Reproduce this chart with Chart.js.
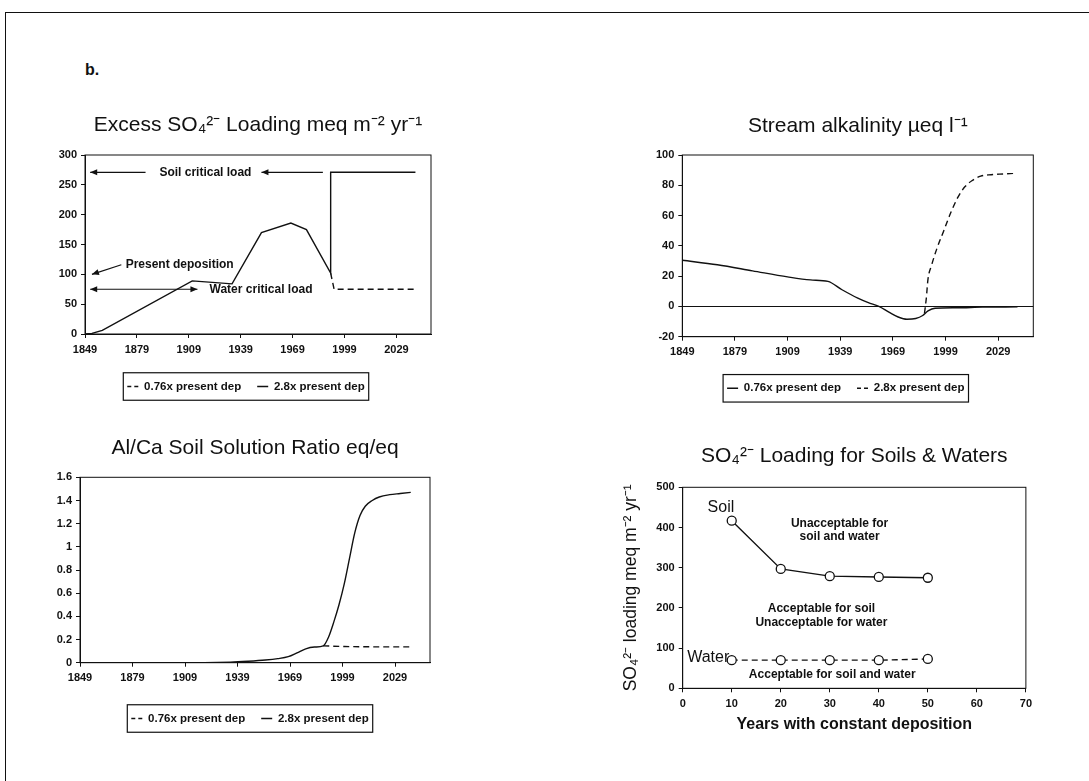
<!DOCTYPE html>
<html>
<head>
<meta charset="utf-8">
<script src="https://cdn.jsdelivr.net/npm/chart.js@4.4.1/dist/chart.umd.min.js"></script>
<style>
  html, body { margin: 0; padding: 0; background: #fff; width: 1089px; height: 781px; overflow: hidden; }
  #sheet { position: absolute; left: 5px; top: 12px; width: 1100px; height: 800px;
           border-top: 1.5px solid #111; border-left: 1.5px solid #111; }
  #panel { position: absolute; left: 85px; top: 61px; line-height: 16px;
           font: bold 16px "Liberation Sans", Arial, sans-serif; color: #111; }
  canvas { position: absolute; }
</style>
</head>
<body>
<div id="sheet"></div>
<div id="panel">b.</div>
<canvas id="cLoad" width="400" height="308" style="left:40px;top:95px"></canvas>
<canvas id="cAlk" width="400" height="310" style="left:640px;top:95px"></canvas>
<canvas id="cAlCa" width="400" height="315" style="left:35px;top:420px"></canvas>
<canvas id="cCrit" width="420" height="313" style="left:617px;top:425px"></canvas>
<script>
// ---- data ----------------------------------------------------------
const yearTicks = [1849, 1879, 1909, 1939, 1969, 1999, 2029];
const seriesNames = ['0.76x present dep', '2.8x present dep'];

// Excess SO4 loading (meq m-2 yr-1)
const loadYears28 = [1849, 1853, 1859, 1911, 1934, 1951, 1968, 1977, 1991, 1991, 2040];
const loadValues28 = [0, 1, 6, 89, 84, 170, 186, 175, 102, 271, 271];
const loadYears076 = [1991, 1993, 2041];
const loadValues076 = [102, 75, 75];
const soilCriticalLoad = 271;
const waterCriticalLoad = 75;
const presentDeposition = 100;

// Stream alkalinity (ueq l-1)
const alkYears076 = [1849, 1869, 1889, 1909, 1922, 1932, 1940, 1949, 1955, 1961, 1967, 1972, 1977, 1982, 1986, 1989, 1993, 2005, 2020, 2040];
const alkValues076 = [30.5, 27.5, 23.5, 19.5, 17.5, 16.5, 11, 5.5, 2.5, 0, -4, -7, -8.5, -8, -6, -3, -1.2, -0.9, -0.5, -0.3];
const alkYears28 = [1987, 1988, 1989, 1991, 1994, 1998, 2002, 2006, 2010, 2014, 2019, 2025, 2032, 2039];
const alkValues28 = [-4.5, 5, 18, 27, 38, 50, 62, 72, 79, 83, 86, 87, 87.5, 88];

// Al/Ca soil solution ratio (eq/eq)
const alcaYears28 = [1849, 1920, 1935, 1945, 1955, 1962, 1968, 1973, 1978, 1983, 1988, 1991, 1994, 1997, 2000, 2003, 2006, 2009, 2012, 2016, 2020, 2026, 2032, 2038];
const alcaValues28 = [0, 0, 0.004, 0.012, 0.023, 0.035, 0.052, 0.085, 0.12, 0.135, 0.145, 0.22, 0.35, 0.5, 0.68, 0.9, 1.12, 1.27, 1.35, 1.4, 1.43, 1.45, 1.46, 1.47];
const alcaYears076 = [1988, 2000, 2015, 2038];
const alcaValues076 = [0.145, 0.14, 0.137, 0.137];

// Critical SO4 loading vs. years of constant deposition
const constYears = [10, 20, 30, 40, 50];
const soilLoad = [417, 297, 279, 277, 275];
const waterLoad = [70, 70, 70, 70, 73];

// ---- shared look ---------------------------------------------------
const FAMILY = '"Liberation Sans", Arial, Helvetica, sans-serif';
const INK = '#111';
Chart.defaults.font.family = FAMILY;
Chart.defaults.color = INK;
Chart.defaults.animation = false;

const tickFont = {size: 11, weight: 'bold'};
const noteFont = 'bold 12px ' + FAMILY;
const tagFont = '16px ' + FAMILY;

const pairs = (xs, ys) => xs.map((x, i) => ({x, y: ys[i]}));

function solid(label, data) {
  return {label, data, borderColor: INK, backgroundColor: INK, borderWidth: 1.4,
          pointRadius: 0, fill: false, cubicInterpolationMode: 'monotone'};
}
function dashed(label, data) {
  return Object.assign(solid(label, data), {borderDash: [6, 4]});
}

// plot frame and a box round the legend
const framePlugin = {
  id: 'frame',
  afterUpdate(chart, args, opts) {
    const lg = chart.legend;
    if (lg && opts.legendShift) {
      lg.left += opts.legendShift;
      lg.right += opts.legendShift;
      lg.legendHitBoxes.forEach(h => { h.left += opts.legendShift; });
    }
  },
  afterDraw(chart) {
    const {ctx, chartArea: a} = chart;
    ctx.save();
    ctx.strokeStyle = INK;
    ctx.lineWidth = 1;
    ctx.strokeRect(a.left, a.top, a.right - a.left, a.bottom - a.top);
    const lg = chart.legend;
    if (lg && lg.options.display && lg.legendHitBoxes.length) {
      const hb = lg.legendHitBoxes;
      const l = Math.min(...hb.map(h => h.left)) - 4;
      const r = Math.max(...hb.map(h => h.left + h.width)) + 4;
      const t = hb[0].top - 8;
      const b = hb[0].top + hb[0].height + 8;
      ctx.lineWidth = 1.2;
      ctx.strokeRect(l, t, r - l, b - t);
    }
    ctx.restore();
  }
};

function arrowHead(ctx, x1, y1, x2, y2) {
  const ang = Math.atan2(y2 - y1, x2 - x1), L = 7, W = 3;
  const c = Math.cos(ang), s = Math.sin(ang);
  ctx.beginPath();
  ctx.moveTo(x2, y2);
  ctx.lineTo(x2 - L * c + W * s, y2 - L * s - W * c);
  ctx.lineTo(x2 - L * c - W * s, y2 - L * s + W * c);
  ctx.closePath();
  ctx.fill();
}

// text labels and arrows placed in data coordinates
const notesPlugin = {
  id: 'notes',
  afterDatasetsDraw(chart, args, opts) {
    const {ctx, scales: {x, y}} = chart;
    ctx.save();
    ctx.fillStyle = INK;
    ctx.strokeStyle = INK;
    (opts.arrows || []).forEach(a => {
      const x1 = x.getPixelForValue(a.from[0]), y1 = y.getPixelForValue(a.from[1]);
      const x2 = x.getPixelForValue(a.to[0]), y2 = y.getPixelForValue(a.to[1]);
      ctx.lineWidth = 1.2;
      ctx.beginPath();
      ctx.moveTo(x1, y1);
      ctx.lineTo(x2, y2);
      ctx.stroke();
      arrowHead(ctx, x1, y1, x2, y2);
      if (a.both) arrowHead(ctx, x2, y2, x1, y1);
    });
    (opts.texts || []).forEach(t => {
      ctx.font = t.font || noteFont;
      ctx.textAlign = t.align || 'center';
      ctx.textBaseline = 'middle';
      ctx.fillText(t.text, x.getPixelForValue(t.x), y.getPixelForValue(t.y));
    });
    ctx.restore();
  }
};

function yearAxis(height) {
  return {
    type: 'linear', min: 1849, max: 2049,
    afterBuildTicks: s => { s.ticks = yearTicks.map(v => ({value: v})); },
    afterFit: s => { s.height = height; },
    ticks: {callback: v => String(v), autoSkip: false, maxRotation: 0, padding: 5, font: tickFont, color: INK},
    grid: {drawOnChartArea: false, tickLength: 4, color: INK, tickColor: INK},
    border: {color: INK, width: 1}
  };
}
function valueAxis(min, max, step, width, extra) {
  return Object.assign({
    type: 'linear', min, max,
    afterFit: s => { s.width = width; },
    ticks: {stepSize: step, padding: 4, font: tickFont, color: INK, callback: v => String(Math.round(v * 10) / 10)},
    grid: {drawOnChartArea: false, tickLength: 4, color: INK, tickColor: INK},
    border: {color: INK, width: 1}
  }, extra || {});
}
function titleOf(text, top, bottom) {
  return {display: true, text, fullSize: false, color: INK,
          font: {size: 21, weight: 'normal'}, padding: {top, bottom}};
}
function legendOf() {
  return {
    display: true, position: 'bottom', fullSize: false,
    labels: {
      usePointStyle: true, pointStyle: 'line', pointStyleWidth: 11, padding: 16,
      color: INK, font: {size: 11.5, weight: 'bold'},
      // line samples follow each dataset's own dash setting
      generateLabels: chart => Chart.defaults.plugins.legend.labels.generateLabels(chart)
        .map(l => {
          const ds = chart.data.datasets[l.datasetIndex];
          return Object.assign(l, {lineDash: (ds.borderDash && ds.borderDash.length) ? [4, 3] : [], lineWidth: 1.4});
        })
    }
  };
}
const base = {responsive: false, maintainAspectRatio: false, parsing: true};

// ---- Excess SO4 loading -------------------------------------------
new Chart(document.getElementById('cLoad'), {
  type: 'line',
  data: {datasets: [
    Object.assign(dashed(seriesNames[0], pairs(loadYears076, loadValues076)), {cubicInterpolationMode: 'default', tension: 0}),
    Object.assign(solid(seriesNames[1], pairs(loadYears28, loadValues28)), {cubicInterpolationMode: 'default', tension: 0})
  ]},
  options: Object.assign({}, base, {
    layout: {padding: {left: 0, right: 9, top: 0, bottom: 0.75}},
    scales: {x: yearAxis(30.75), y: valueAxis(0, 300, 50, 45)},
    plugins: {
      title: titleOf('Excess SO\u2084\u00B2\u207B Loading meq m\u207B\u00B2 yr\u207B\u00B9', 17.4, 17.4),
      legend: legendOf(),
      tooltip: {enabled: false},
      frame: {legendShift: -12},
      notes: {
        texts: [
          {text: 'Soil critical load', x: 1892, y: soilCriticalLoad, align: 'left'},
          {text: 'Present deposition', x: 1872.5, y: 116, align: 'left'},
          {text: 'Water critical load', x: 1921, y: waterCriticalLoad, align: 'left'}
        ],
        arrows: [
          {from: [1884, soilCriticalLoad], to: [1852, soilCriticalLoad]},
          {from: [1986.5, soilCriticalLoad], to: [1951, soilCriticalLoad]},
          {from: [1870, 116], to: [1853, presentDeposition]},
          {from: [1914, waterCriticalLoad], to: [1852, waterCriticalLoad], both: true}
        ]
      }
    }
  }),
  plugins: [framePlugin, notesPlugin]
});

// ---- Stream alkalinity ---------------------------------------------
new Chart(document.getElementById('cAlk'), {
  type: 'line',
  data: {datasets: [
    solid(seriesNames[0], pairs(alkYears076, alkValues076)),
    dashed(seriesNames[1], pairs(alkYears28, alkValues28))
  ]},
  options: Object.assign({}, base, {
    layout: {padding: {left: 0, right: 6.7, top: 0, bottom: 0.95}},
    scales: {
      x: yearAxis(29.85),
      y: valueAxis(-20, 100, 20, 42.3, {
        grid: {drawOnChartArea: true, tickLength: 4, tickColor: INK,
               color: c => (c.tick && c.tick.value === 0) ? INK : 'rgba(0,0,0,0)'}
      })
    },
    plugins: {
      title: titleOf('Stream alkalinity \u00B5eq l\u207B\u00B9', 19.1, 15.7),
      legend: legendOf(),
      tooltip: {enabled: false},
      frame: {legendShift: -12}
    }
  }),
  plugins: [framePlugin]
});

// ---- Al/Ca soil solution ratio ------------------------------------
new Chart(document.getElementById('cAlCa'), {
  type: 'line',
  data: {datasets: [
    dashed(seriesNames[0], pairs(alcaYears076, alcaValues076)),
    solid(seriesNames[1], pairs(alcaYears28, alcaValues28))
  ]},
  options: Object.assign({}, base, {
    layout: {padding: {left: 0, right: 5, top: 0, bottom: 0.75}},
    scales: {x: yearAxis(34.05), y: valueAxis(0, 1.6, 0.2, 45)},
    plugins: {
      title: titleOf('Al/Ca Soil Solution Ratio eq/eq', 15.7, 16.4),
      legend: legendOf(),
      tooltip: {enabled: false},
      frame: {legendShift: -5}
    }
  }),
  plugins: [framePlugin]
});

// ---- SO4 loading limits for soils and waters ----------------------
new Chart(document.getElementById('cCrit'), {
  type: 'line',
  data: {datasets: [
    Object.assign(solid('Soil', pairs(constYears, soilLoad)), {
      tension: 0, cubicInterpolationMode: 'default',
      pointRadius: 4.5, pointBackgroundColor: '#fff', pointBorderColor: INK, pointBorderWidth: 1.3}),
    Object.assign(dashed('Water', pairs(constYears, waterLoad)), {
      tension: 0, cubicInterpolationMode: 'default',
      pointRadius: 4.5, pointBackgroundColor: '#fff', pointBorderColor: INK, pointBorderWidth: 1.3})
  ]},
  options: Object.assign({}, base, {
    layout: {padding: {left: 0, right: 5.3, top: 0, bottom: 0}},
    scales: {
      x: {
        type: 'linear', min: 0, max: 70,
        afterFit: s => { s.height = 49.7; },
        ticks: {stepSize: 10, padding: 5, font: tickFont, color: INK, maxRotation: 0},
        grid: {drawOnChartArea: false, tickLength: 4, color: INK, tickColor: INK},
        border: {color: INK, width: 1},
        title: {display: true, text: 'Years with constant deposition', color: INK,
                font: {size: 16, weight: 'bold'}, padding: {top: 4, bottom: 4}}
      },
      y: valueAxis(0, 500, 100, 65.7, {
        title: {display: true, text: 'SO\u2084\u00B2\u207B loading meq m\u207B\u00B2 yr\u207B\u00B9', color: INK,
                font: {size: 17.5, weight: 'normal'}, padding: {top: 4, bottom: 4}}
      })
    },
    plugins: {
      title: titleOf('SO\u2084\u00B2\u207B Loading for Soils & Waters', 19.1, 18),
      legend: {display: false},
      tooltip: {enabled: false},
      notes: {
        texts: [
          {text: 'Soil', x: 7.8, y: 450, font: tagFont},
          {text: 'Water', x: 5.2, y: 76, font: tagFont},
          {text: 'Unacceptable for', x: 32, y: 410},
          {text: 'soil and water', x: 32, y: 376},
          {text: 'Acceptable for soil', x: 28.3, y: 197},
          {text: 'Unacceptable for water', x: 28.3, y: 162},
          {text: 'Acceptable for soil and water', x: 30.5, y: 33}
        ]
      }
    }
  }),
  plugins: [framePlugin, notesPlugin]
});
</script>
</body>
</html>
